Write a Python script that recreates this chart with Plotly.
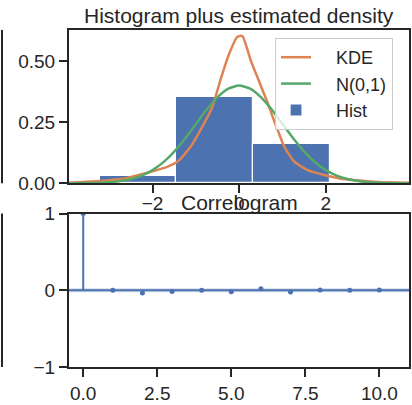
import plotly.graph_objects as go

# Histogram of standardized residuals (density normalised)
hist_edges = [-3.22, -1.45, 0.32, 2.09]
hist_density = [0.030, 0.351, 0.160]

# Kernel density estimate of the residuals
kde_x = [-3.93, -3.44, -3.0, -2.65, -2.04, -1.65, -1.42, -1.12, -0.81, -0.65, -0.57,
         -0.42, -0.23, -0.05, 0.02, 0.08, 0.27, 0.46, 0.54, 0.66, 0.81, 0.89, 1.04,
         1.27, 1.58, 1.96, 2.35, 2.73, 3.2, 3.92]
kde_y = [0.002, 0.007, 0.013, 0.020, 0.047, 0.068, 0.089, 0.150, 0.245, 0.300, 0.340,
         0.430, 0.530, 0.597, 0.602, 0.600, 0.500, 0.416, 0.380, 0.327, 0.253, 0.217, 0.150,
         0.089, 0.054, 0.034, 0.019, 0.012, 0.005, 0.002]

# Standard normal reference density N(0,1)
norm_x = [-3.93, -3.5, -3.0, -2.75, -2.5, -2.25, -2.0, -1.75, -1.5, -1.25, -1.0, -0.75,
          -0.5, -0.25, 0.0, 0.25, 0.5, 0.75, 1.0, 1.25, 1.5, 1.75, 2.0, 2.25, 2.5,
          2.75, 3.0, 3.5, 3.92]
norm_y = [0.0002, 0.0009, 0.0044, 0.0091, 0.0175, 0.0317, 0.0540, 0.0863, 0.1295,
          0.1826, 0.2420, 0.3011, 0.3521, 0.3867, 0.3989, 0.3867, 0.3521, 0.3011,
          0.2420, 0.1826, 0.1295, 0.0863, 0.0540, 0.0317, 0.0175, 0.0091, 0.0044,
          0.0009, 0.0002]

# Autocorrelation of the residuals by lag
acf_lags = [0, 1, 2, 3, 4, 5, 6, 7, 8, 9, 10]
acf_vals = [1.0, 0.0, -0.037, -0.016, 0.0, -0.018, 0.021, -0.024, 0.004, 0.0, 0.004]

BLUE = "#4C72B0"
ORANGE = "#DD8452"
GREEN = "#55A868"
INK = "#262626"
FONT = "Liberation Sans, Arial, sans-serif"
PAD = "\u00a0" * 4  # gap between legend swatch and label

fig = go.Figure()

# --- histogram panel ---
fig.add_trace(go.Scatter(x=kde_x, y=kde_y, mode="lines", name=PAD + "KDE",
                         line=dict(color=ORANGE, width=2.5, shape="spline", smoothing=0.6),
                         xaxis="x", yaxis="y"))
fig.add_trace(go.Scatter(x=norm_x, y=norm_y, mode="lines", name=PAD + "N(0,1)",
                         line=dict(color=GREEN, width=2.5, shape="spline", smoothing=0.6),
                         xaxis="x", yaxis="y"))
centers = [(a + b) / 2 for a, b in zip(hist_edges[:-1], hist_edges[1:])]
widths = [b - a for a, b in zip(hist_edges[:-1], hist_edges[1:])]
fig.add_trace(go.Bar(x=centers, y=hist_density, width=widths, name=PAD + "Hist",
                     marker=dict(color=BLUE, line=dict(color="white", width=1.2)),
                     xaxis="x", yaxis="y"))

# --- correlogram panel ---
stem_x, stem_y = [], []
for lag, v in zip(acf_lags, acf_vals):
    stem_x += [lag, lag, None]
    stem_y += [0, v, None]
fig.add_trace(go.Scatter(x=stem_x, y=stem_y, mode="lines", showlegend=False,
                         line=dict(color=BLUE, width=2), xaxis="x2", yaxis="y2"))
fig.add_trace(go.Scatter(x=acf_lags, y=acf_vals, mode="markers", showlegend=False,
                         marker=dict(color=BLUE, size=5), xaxis="x2", yaxis="y2"))

# zero reference line with a faint confidence halo
fig.add_shape(type="line", xref="x2 domain", yref="y2", x0=0, x1=1, y0=0, y1=0,
              line=dict(color="rgba(76,114,176,0.25)", width=4), layer="below")
fig.add_shape(type="line", xref="x2 domain", yref="y2", x0=0, x1=1, y0=0, y1=0,
              line=dict(color=BLUE, width=2))

top_dom = [0.5474, 0.9259]
bot_dom = [0.0938, 0.4728]

# right edges of the neighbouring panels
for dom in (top_dom, bot_dom):
    fig.add_shape(type="line", xref="paper", yref="paper", x0=-0.197, x1=-0.197,
                  y0=dom[0], y1=dom[1], line=dict(color=INK, width=2))

axis_style = dict(showline=True, mirror=True, linecolor=INK, linewidth=2,
                  ticks="outside", ticklen=8, tickwidth=2, tickcolor=INK,
                  showgrid=False, zeroline=False, automargin=False,
                  tickfont=dict(family=FONT, size=19, color=INK))

fig.update_layout(
    width=412, height=405, autosize=False,
    margin=dict(l=69, r=3, t=0, b=0, autoexpand=False),
    paper_bgcolor="white", plot_bgcolor="white",
    font=dict(family=FONT, color=INK),
    bargap=0,
    xaxis=dict(domain=[0, 1], anchor="y", range=[-3.93, 3.92],
               tickvals=[-2, 0, 2], ticklabelstandoff=-6, **axis_style),
    yaxis=dict(domain=top_dom, anchor="x", range=[0, 0.626],
               tickvals=[0, 0.25, 0.5], tickformat=".2f", **axis_style),
    xaxis2=dict(domain=[0, 1], anchor="y2", range=[-0.48, 11.0],
                tickvals=[0, 2.5, 5, 7.5, 10], tickformat=".1f", **axis_style),
    yaxis2=dict(domain=bot_dom, anchor="x2", range=[-1, 1],
                tickvals=[-1, 0, 1], **axis_style),
    legend=dict(x=0.606, y=0.9062, xanchor="left", yanchor="top",
                bgcolor="rgba(255,255,255,0.8)", bordercolor="#cccccc", borderwidth=1,
                font=dict(family=FONT, size=18, color=INK), traceorder="normal"),
    showlegend=True,
    annotations=[
        dict(text="Histogram plus estimated density", xref="paper", yref="paper",
             x=0.5, y=0.9605, xanchor="center", yanchor="middle", showarrow=False,
             font=dict(family=FONT, size=21, color=INK)),
        dict(text="Correlogram", xref="paper", yref="paper",
             x=0.5, y=0.5012, xanchor="center", yanchor="middle", showarrow=False,
             font=dict(family=FONT, size=21, color=INK)),
    ],
)

fig.write_html("out.html")
